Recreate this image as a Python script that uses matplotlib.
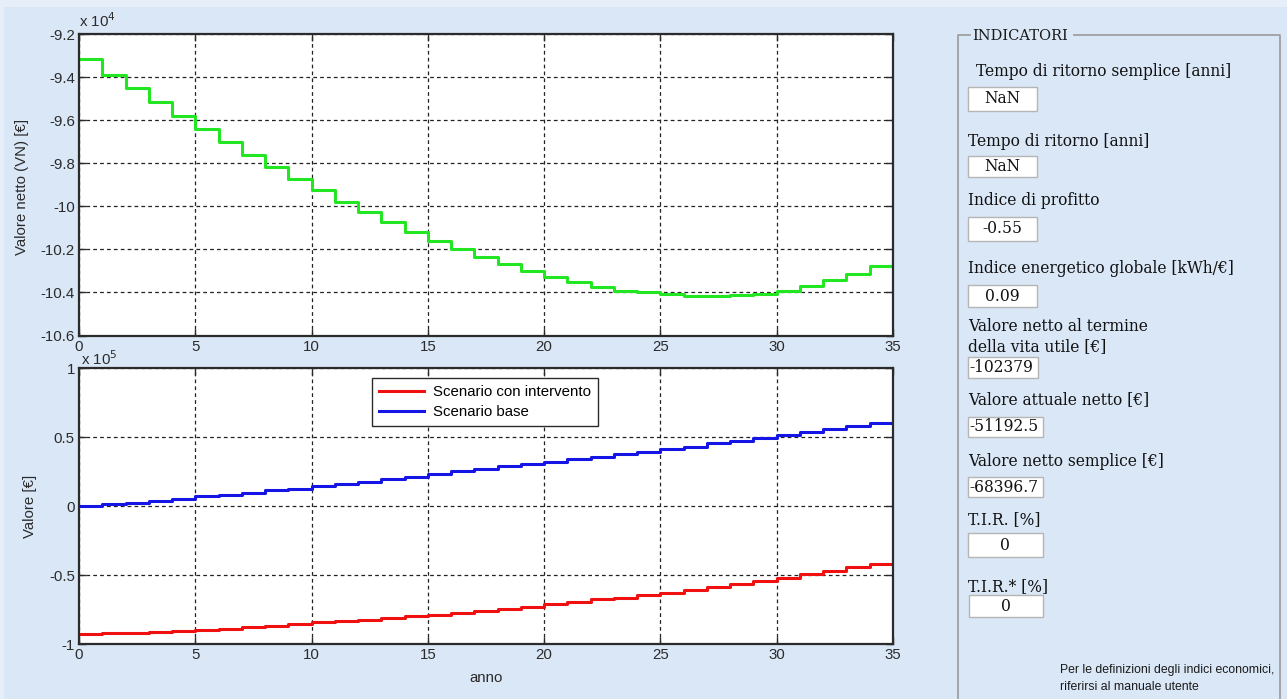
import matplotlib
matplotlib.use("Agg")
import matplotlib.pyplot as plt
from matplotlib.patches import Rectangle
import numpy as np

# Data
years = list(range(36))

valore_netto = [-93150, -93870, -94500, -95140, -95780, -96410, -97010, -97600, -98190, -98720,
                -99250, -99790, -100260, -100730, -101170, -101590, -101980, -102350, -102670, -102990,
                -103280, -103530, -103740, -103920, -104000, -104080, -104160, -104160, -104130, -104070,
                -103920, -103680, -103420, -103140, -102770, -102379]

scenario_intervento = [-92600, -92300, -91800, -91200, -90500, -89700, -88900, -87900, -86900, -85700,
                       -84400, -83400, -82300, -81100, -79900, -78700, -77300, -75800, -74400, -72900,
                       -71300, -69400, -67500, -66300, -64600, -62700, -60500, -58600, -56200, -54500,
                       -52100, -49500, -46800, -44200, -41700, -40100]

scenario_base = [0, 1200, 2200, 3600, 5500, 7200, 8100, 9600, 11500, 12700,
                 14600, 16000, 17500, 19500, 21300, 23200, 25400, 27100, 29000, 30500,
                 32100, 34100, 36000, 37700, 39400, 41300, 43200, 45600, 47300, 49700,
                 51600, 53800, 55700, 58100, 60500, 61700]

legend_labels = ["Scenario con intervento", "Scenario base"]

indicator_labels = ["Tempo di ritorno semplice [anni]", "Tempo di ritorno [anni]", "Indice di profitto",
                    "Indice energetico globale [kWh/€]", "Valore netto al termine\ndella vita utile [€]",
                    "Valore attuale netto [€]", "Valore netto semplice [€]", "T.I.R. [%]", "T.I.R.* [%]"]
indicator_values = ["NaN", "NaN", "-0.55", "0.09", "-102379", "-51192.5", "-68396.7", "0", "0"]

W, H = 1287, 699
BG = "#dae7f7"
plt.rcParams["font.family"] = ["Liberation Sans", "DejaVu Sans"]

fig = plt.figure(figsize=(W / 100, H / 100), dpi=100, facecolor="#e6eef9")
fig.patches.append(Rectangle((4 / W, 0), 1, 1 - 7 / H, transform=fig.transFigure,
                             facecolor=BG, edgecolor="none", zorder=-10))


def fx(x):
    return x / W


def fy(y):
    return 1 - y / H


def style_axes(ax):
    ax.set_facecolor("white")
    for s in ax.spines.values():
        s.set_color("#2b2b2b")
        s.set_linewidth(1.6)
    ax.tick_params(direction="in", length=5, width=1, top=True, right=True,
                   labelsize=10.8, colors="#2b2b2b", pad=3)
    ax.grid(True, color="#222222", linestyle=(0, (3, 2.5)), linewidth=0.9)
    ax.set_axisbelow(True)
    ax.set_xlim(0, 35)
    ax.set_xticks(range(0, 36, 5))


# Top chart - valore netto
ax1 = fig.add_axes([fx(79), fy(335.5), fx(893 - 79), (335.5 - 34.3) / H])
style_axes(ax1)
ax1.step(years, np.array(valore_netto) / 1e4, where="post", color="#22e622", linewidth=2.2)
ax1.set_ylim(-10.6, -9.2)
ax1.set_yticks(np.arange(-10.6, -9.19, 0.2))
ax1.set_yticklabels(["-10.6", "-10.4", "-10.2", "-10", "-9.8", "-9.6", "-9.4", "-9.2"])
ax1.set_xticklabels([str(v) for v in range(0, 36, 5)])
ax1.text(0, 1.015, r"x 10$^{4}$", transform=ax1.transAxes, fontsize=10.8, color="#2b2b2b",
         ha="left", va="bottom")
fig.text(fx(22), fy(187), "Valore netto (VN) [€]", rotation=90, fontsize=10.8,
         ha="center", va="center", color="#2b2b2b")

# Bottom chart - scenari
ax2 = fig.add_axes([fx(79), fy(644), fx(893 - 79), (644 - 368.3) / H])
style_axes(ax2)
ax2.step(years, np.array(scenario_intervento) / 1e5, where="post", color="#f01010", linewidth=2.2,
         label=legend_labels[0])
ax2.step(years, np.array(scenario_base) / 1e5, where="post", color="#1515e6", linewidth=2.2,
         label=legend_labels[1])
ax2.set_ylim(-1, 1)
ax2.set_yticks([-1, -0.5, 0, 0.5, 1])
ax2.set_yticklabels(["-1", "-0.5", "0", "0.5", "1"])
ax2.text(0.003, 1.0, r"x 10$^{5}$", transform=ax2.transAxes, fontsize=10.8, color="#2b2b2b",
         ha="left", va="bottom")
ax2.set_xlabel("anno", fontsize=10.8, color="#2b2b2b", labelpad=6)
fig.text(fx(30), fy(506), "Valore [€]", rotation=90, fontsize=10.8,
         ha="center", va="center", color="#2b2b2b")
leg = ax2.legend(loc="upper center", bbox_to_anchor=(0.499, (644 - 378) / (644 - 368.3)), fontsize=10.8,
                 fancybox=False, framealpha=1, edgecolor="#2b2b2b", handlelength=3.0,
                 borderpad=0.45, labelspacing=0.42, handletextpad=0.6, borderaxespad=0)
leg.get_frame().set_linewidth(1)

# Right panel - indicatori
serif = ["DejaVu Serif", "Liberation Serif"]
border = "#9a9a9a"
fig.add_artist(plt.Line2D([fx(958), fx(958), fx(970)], [0, fy(35), fy(35)],
                          transform=fig.transFigure, color=border, linewidth=1.2))
fig.add_artist(plt.Line2D([fx(1074), fx(1280), fx(1280)], [fy(35), fy(35), 0],
                          transform=fig.transFigure, color=border, linewidth=1.2))
fig.text(fx(972), fy(36), "INDICATORI", family=serif, fontsize=10.5, ha="left", va="center",
         color="#1a1a1a")

label_pos = [(976, 71.5), (968, 141.5), (968, 200), (968, 268.5), (968, 336.5),
             (968, 400), (968, 462), (968, 520), (968, 587)]
box_pos = [(968, 86.7, 1036.7, 110.7, "center"), (968, 155.7, 1036.7, 177.3, "center"),
           (968, 216.7, 1036.7, 240.7, "center"), (968, 285, 1036.7, 307.3, "center"),
           (968, 356.7, 1038.3, 378.3, "left"), (968, 417.3, 1042.7, 436.7, "left"),
           (968, 476.7, 1042.7, 497.3, "left"), (968, 532.7, 1042.7, 557.3, "center"),
           (969, 595, 1042.7, 617.3, "center")]

for lab, (lx, ly), val, (x0, y0, x1, y1, al) in zip(indicator_labels, label_pos, indicator_values, box_pos):
    fig.text(fx(lx), fy(ly), lab, family=serif, fontsize=11.2, ha="left", va="center",
             linespacing=1.3, color="#111111")
    fig.patches.append(Rectangle((fx(x0), fy(y1)), fx(x1 - x0), (y1 - y0) / H,
                                 transform=fig.transFigure, facecolor="white",
                                 edgecolor="#b5b5b5", linewidth=1))
    tx = (x0 + x1) / 2 if al == "center" else x0 + 1
    fig.text(fx(tx), fy((y0 + y1) / 2), val, family=serif, fontsize=11.2, ha=al, va="center",
             color="#111111")

fig.text(fx(1060), fy(670), "Per le definizioni degli indici economici,", fontsize=8.8,
         ha="left", va="center", color="#1a1a1a")
fig.text(fx(1060), fy(686.5), "riferirsi al manuale utente", fontsize=8.8,
         ha="left", va="center", color="#1a1a1a")

fig.savefig("out.png", dpi=100, facecolor=fig.get_facecolor())
